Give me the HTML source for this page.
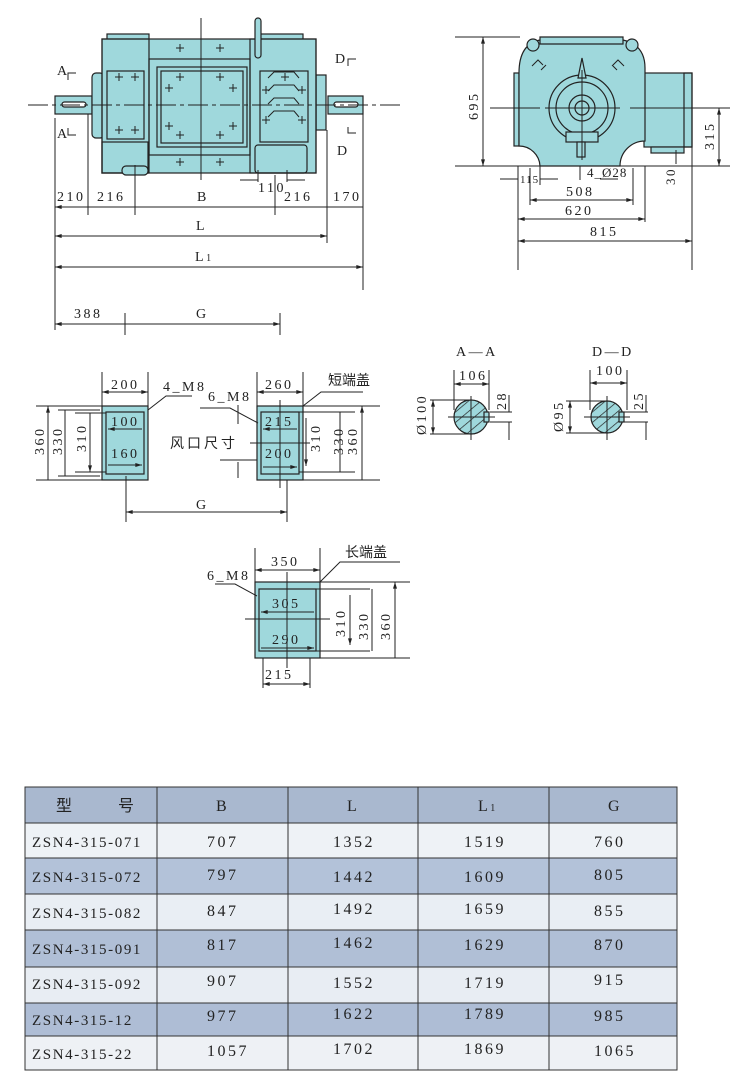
<!DOCTYPE html>
<html><head><meta charset="utf-8">
<style>
html,body{margin:0;padding:0;background:#fff;}
svg{display:block;}
text{font-family:"Liberation Serif","Noto Serif CJK SC",serif;fill:#222;}
.d{font-size:14px;letter-spacing:2.5px;}
.c{font-family:"Noto Sans CJK SC","WenQuanYi Zen Hei",sans-serif;font-size:14px;}
.t{font-size:16px;letter-spacing:2.5px;}
.m{font-size:15px;letter-spacing:1.6px;}
</style></head><body>
<svg width="740" height="1086" viewBox="0 0 740 1086" xmlns="http://www.w3.org/2000/svg">
<defs>
<marker id="a" viewBox="0 0 10 6" refX="10" refY="3" markerWidth="8" markerHeight="4" orient="auto-start-reverse"><path d="M0,0L10,3L0,6z" fill="#222"/></marker>
<pattern id="h" width="8" height="8" patternUnits="userSpaceOnUse" patternTransform="rotate(-40)"><rect width="8" height="8" fill="#9fd8dc"/><line x1="0" y1="0" x2="8" y2="0" stroke="#222" stroke-width="1.4"/></pattern>
</defs>
<g stroke="#222" stroke-width="1.2" fill="#9fd8dc">
<rect x="107" y="34" width="42" height="6"/>
<rect x="260" y="34" width="43" height="6"/>
<rect x="55" y="96" width="37" height="18"/>
<rect x="328" y="96" width="35" height="18"/>
<rect x="92" y="73" width="12" height="65" rx="4"/>
<rect x="316" y="75" width="10" height="55"/>
<rect x="102" y="39" width="214" height="134"/>
<rect x="102" y="39" width="47" height="134" fill="none"/>
<rect x="250" y="39" width="66" height="134" fill="none"/>
<rect x="107" y="71" width="37" height="68"/>
<rect x="149" y="59" width="101" height="96" fill="none"/>
<rect x="157" y="67" width="90" height="80"/>
<rect x="161" y="71" width="82" height="72" fill="none"/>
<rect x="260" y="71" width="48" height="71"/>
<rect x="102" y="142" width="46" height="31" fill="none"/>
<rect x="255" y="145" width="52" height="28" rx="3" fill="none"/>
<rect x="122" y="166" width="26" height="9" rx="4"/>
<rect x="255" y="18" width="6" height="40" rx="3"/>
<rect x="62" y="102" width="24" height="5" rx="2.5" fill="#fff"/>
<rect x="334" y="102" width="24" height="5" rx="2.5" fill="#fff"/>
</g>
<g stroke="#222" stroke-width="1" fill="none">
<path d="M268 78l6-6h20l5 6M268 91l6-6h20l5 6M268 104l6-6h20l5 6M268 117l6-6h20l5 6"/>
<path d="M28 105H400" stroke-dasharray="20,4,4,4"/>
<path d="M201 18V180"/>
<path d="M115 77h8M119 73v8M131 77h8M135 73v8M115 130h8M119 126v8M131 130h8M135 126v8M176 48h8M180 44v8M216 48h8M220 44v8M176 162h8M180 158v8M216 162h8M220 158v8M176 77h8M180 73v8M216 77h8M220 73v8M165 88h8M169 84v8M229 88h8M233 84v8M165 126h8M169 122v8M229 126h8M233 122v8M176 135h8M180 131v8M216 135h8M220 131v8M262 90h8M266 86v8M298 90h8M302 86v8M262 120h8M266 116v8M298 120h8M302 116v8M281 77h8M285 73v8"/>
<path d="M68 80V73h8M68 128v7h8M348 66v-7h8M348 127v6h8"/>
<path d="M55 118V330M88 114V215M135 165V215M275 175V215M327 130V243M363 114V290"/>
<path d="M55 207H363" marker-start="url(#a)"/>
<path d="M55 236H327" marker-start="url(#a)" marker-end="url(#a)"/>
<path d="M55 267H363" marker-start="url(#a)" marker-end="url(#a)"/>
<path d="M55 324H280" marker-start="url(#a)" marker-end="url(#a)"/>
<path d="M125 313V335M280 313V335"/>
<path d="M240 180h18M287 180h18M258 170v12M287 170v12"/>
</g>
<g class="d">
<text x="57" y="75">A</text><text x="57" y="138">A</text>
<text x="335" y="63">D</text><text x="337" y="155">D</text>
<text x="57" y="201">210</text><text x="97" y="201">216</text><text x="197" y="201">B</text>
<text x="258" y="192">110</text><text x="284" y="201">216</text><text x="333" y="201">170</text>
<text x="196" y="230">L</text><text x="195" y="261">L<tspan style="font-size:10px">1</tspan></text>
<text x="74" y="318">388</text><text x="196" y="318">G</text>
</g>
<g stroke="#222" stroke-width="1.2" fill="#9fd8dc">
<rect x="644" y="73" width="48" height="74"/>
<rect x="684" y="73" width="8" height="74" fill="none"/>
<rect x="651" y="147" width="33" height="6"/>
<rect x="514" y="73" width="5" height="73"/>
<path d="M519 73V146A21 21 0 0 1 540 166H620A25 25 0 0 1 645 141V68Q645 45 623 40H540Q519 44 519 73Z"/>
<path d="M540 37H623V44H540Z"/>
<circle cx="533" cy="45" r="6"/><circle cx="632" cy="45" r="6"/>
<circle cx="582" cy="108" r="33"/>
<circle cx="582" cy="108" r="26"/>
<circle cx="582" cy="108" r="13"/>
<circle cx="582" cy="108" r="7"/>
<rect x="566" y="132" width="32" height="10"/>
<rect x="577" y="142" width="8" height="15"/>
<path d="M582 58l-4 20h8z"/>
</g>
<g stroke="#222" stroke-width="1" fill="none">
<path d="M532 66l6-6 5 5M541 70l5-5M624 66l-6-6-5 5M617 70l-5-5"/>
<path d="M545 108H620M582 70V160M490 108H540M630 108H730"/>
<path d="M455 37H520M455 166H730"/>
<path d="M483 37V166" marker-start="url(#a)" marker-end="url(#a)"/>
<path d="M719 108V166" marker-start="url(#a)" marker-end="url(#a)"/>
<path d="M518 166V270M692 147V270M530 168V205M633 168V205M645 166V222M540 166V185M580 166V180"/>
<path d="M530 200H633" marker-start="url(#a)" marker-end="url(#a)"/>
<path d="M518 219H645" marker-start="url(#a)" marker-end="url(#a)"/>
<path d="M518 241H692" marker-start="url(#a)" marker-end="url(#a)"/>
<path d="M500 179h18M540 179h18M600 179h18M676 150v14"/>
</g>
<g class="d">
<text transform="translate(478,120) rotate(-90)">695</text>
<text transform="translate(714,150) rotate(-90)">315</text>
<text x="520" y="183" style="font-size:11px;letter-spacing:1px">115</text>
<text x="587" y="177" style="font-size:13px;letter-spacing:1px">4_Ø28</text>
<text transform="translate(675,185) rotate(-90)" style="font-size:13px">30</text>
<text x="566" y="196">508</text><text x="565" y="215">620</text><text x="590" y="236">815</text>
</g>
<g stroke="#222" stroke-width="1.2">
<circle cx="471" cy="417" r="17" fill="url(#h)"/>
<rect x="484" y="412" width="5" height="10" fill="#9fd8dc"/>
<circle cx="607" cy="417" r="16" fill="url(#h)"/>
<rect x="619" y="412" width="5" height="10" fill="#9fd8dc"/>
</g>
<g stroke="#222" stroke-width="1" fill="none">
<path d="M454 370V410M489 370V410"/><path d="M454 384H489" marker-start="url(#a)" marker-end="url(#a)"/>
<path d="M430 400H471M430 434H471"/><path d="M433 400V434" marker-start="url(#a)" marker-end="url(#a)"/>
<path d="M490 412H512M490 422H512M509 395V412M509 422V440"/>
<path d="M590 370V410M627 370V410"/><path d="M590 383H627" marker-start="url(#a)" marker-end="url(#a)"/>
<path d="M566 401H607M566 433H607"/><path d="M570 401V433" marker-start="url(#a)" marker-end="url(#a)"/>
<path d="M624 412H648M624 422H648M646 395V412M646 422V440"/>
<path d="M448 417H495M471 396V440M584 417H630M607 396V440"/>
</g>
<g class="d">
<text x="456" y="356">A—A</text><text x="592" y="356">D—D</text>
<text x="459" y="380">106</text><text x="596" y="375">100</text>
<text transform="translate(426,435) rotate(-90)">Ø100</text>
<text transform="translate(563,432) rotate(-90)">Ø95</text>
<text transform="translate(506,410) rotate(-90)">28</text>
<text transform="translate(643,410) rotate(-90)">25</text>
</g>
<g stroke="#222" stroke-width="1.2" fill="#9fd8dc">
<rect x="102" y="406" width="46" height="74"/><rect x="106" y="412" width="38" height="62" fill="none"/>
<rect x="257" y="406" width="46" height="74"/><rect x="261" y="412" width="38" height="62" fill="none"/>
<rect x="255" y="582" width="65" height="76"/><rect x="259" y="589" width="57" height="62" fill="none"/>
</g>
<g stroke="#222" stroke-width="1" fill="none">
<path d="M102 372V406M148 372V406"/><path d="M102 392H148" marker-start="url(#a)" marker-end="url(#a)"/>
<path d="M108 429H142M108 465H142" marker-start="url(#a)" marker-end="url(#a)"/>
<path d="M36 406H102M36 480H102M58 410H100M58 476H100M75 413H106M75 472H106"/>
<path d="M48 406V480M65 410V476M90 413V472" marker-start="url(#a)" marker-end="url(#a)"/>
<path d="M126 476V522M287 480V522"/><path d="M126 512H287" marker-start="url(#a)" marker-end="url(#a)"/>
<path d="M148 410l18-14h26"/>
<path d="M257 372V406M303 372V406"/><path d="M257 392H303" marker-start="url(#a)" marker-end="url(#a)"/>
<path d="M263 429H297M263 467H297" marker-start="url(#a)" marker-end="url(#a)"/>
<path d="M303 406H380M299 412H355M299 472H355M303 480H380M280 400V488M250 443H310"/>
<path d="M362 406V480M340 412V472M306 418V466" marker-start="url(#a)" marker-end="url(#a)"/>
<path d="M303 406l18-14h42"/>
<path d="M200 408h30l28 15M238 405V424M238 462V478M220 460h37"/>
<path d="M255 548V582M320 548V582"/><path d="M255 570H320" marker-start="url(#a)" marker-end="url(#a)"/>
<path d="M261 612H314M261 648H314" marker-start="url(#a)" marker-end="url(#a)"/>
<path d="M320 582H410M316 589H370M316 651H370M320 658H410M287 572V668M245 619H330"/>
<path d="M395 582V658M372 589V651M350 595V645" marker-start="url(#a)" marker-end="url(#a)"/>
<path d="M320 582l20-20h60"/>
<path d="M215 584h20l22 12"/>
<path d="M263 658V688M310 658V688"/><path d="M263 684H310" marker-start="url(#a)" marker-end="url(#a)"/>
</g>
<g class="d">
<text x="111" y="389">200</text><text x="111" y="426">100</text><text x="111" y="458">160</text>
<text x="163" y="391">4_M8</text>
<text transform="translate(44,455) rotate(-90)">360</text>
<text transform="translate(62,455) rotate(-90)">330</text>
<text transform="translate(86,452) rotate(-90)">310</text>
<text x="265" y="389">260</text><text x="265" y="426">215</text><text x="265" y="458">200</text>
<text x="208" y="401">6_M8</text>
<text transform="translate(320,452) rotate(-90)">310</text>
<text transform="translate(343,455) rotate(-90)">330</text>
<text transform="translate(357,455) rotate(-90)">360</text>
<text x="196" y="509">G</text>
<text x="271" y="566">350</text><text x="272" y="608">305</text><text x="272" y="644">290</text>
<text x="265" y="679">215</text><text x="207" y="580">6_M8</text>
<text transform="translate(345,637) rotate(-90)">310</text>
<text transform="translate(368,640) rotate(-90)">330</text>
<text transform="translate(390,640) rotate(-90)">360</text>
</g>
<text class="c" x="328" y="385">短端盖</text>
<text class="c" x="170" y="448" style="letter-spacing:3px">风口尺寸</text>
<text class="c" x="345" y="557">长端盖</text>
<g stroke="none">
<rect x="25" y="787" width="652" height="36" fill="#a9b8cf"/>
<rect x="25" y="823" width="652" height="35" fill="#eef2f6"/>
<rect x="25" y="858" width="652" height="36" fill="#b3c2d9"/>
<rect x="25" y="894" width="652" height="36" fill="#e9eef4"/>
<rect x="25" y="930" width="652" height="37" fill="#b0bfd6"/>
<rect x="25" y="967" width="652" height="36" fill="#e8edf3"/>
<rect x="25" y="1003" width="652" height="33" fill="#aebdd5"/>
<rect x="25" y="1036" width="652" height="34" fill="#eef1f5"/>
</g>
<g stroke="#333" stroke-width="1" fill="none">
<rect x="25" y="787" width="652" height="283"/>
<path d="M157 787V1070M288 787V1070M418 787V1070M549 787V1070M677 787V1070M25 823H677M25 858H677M25 894H677M25 930H677M25 967H677M25 1003H677M25 1036H677"/>
</g>
<g class="t">
<text class="c" x="56" y="811" style="font-size:16px">型</text><text class="c" x="118" y="811" style="font-size:16px">号</text>
<text x="216" y="811">B</text><text x="347" y="811">L</text><text x="478" y="811">L<tspan style="font-size:10px">1</tspan></text><text x="608" y="811">G</text>
<text class="m" x="32" y="847">ZSN4-315-071</text><text x="207" y="847">707</text><text x="333" y="847">1352</text><text x="464" y="847">1519</text><text x="594" y="847">760</text>
<text class="m" x="32" y="882">ZSN4-315-072</text><text x="207" y="880">797</text><text x="333" y="882">1442</text><text x="464" y="882">1609</text><text x="594" y="880">805</text>
<text class="m" x="32" y="918">ZSN4-315-082</text><text x="207" y="916">847</text><text x="333" y="914">1492</text><text x="464" y="914">1659</text><text x="594" y="916">855</text>
<text class="m" x="32" y="954">ZSN4-315-091</text><text x="207" y="950">817</text><text x="333" y="948">1462</text><text x="464" y="950">1629</text><text x="594" y="950">870</text>
<text class="m" x="32" y="989">ZSN4-315-092</text><text x="207" y="986">907</text><text x="333" y="988">1552</text><text x="464" y="988">1719</text><text x="594" y="985">915</text>
<text class="m" x="32" y="1025">ZSN4-315-12</text><text x="207" y="1021">977</text><text x="333" y="1019">1622</text><text x="464" y="1019">1789</text><text x="594" y="1021">985</text>
<text class="m" x="32" y="1059">ZSN4-315-22</text><text x="207" y="1056">1057</text><text x="333" y="1054">1702</text><text x="464" y="1054">1869</text><text x="594" y="1056">1065</text>
</g>
</svg>
</body></html>
